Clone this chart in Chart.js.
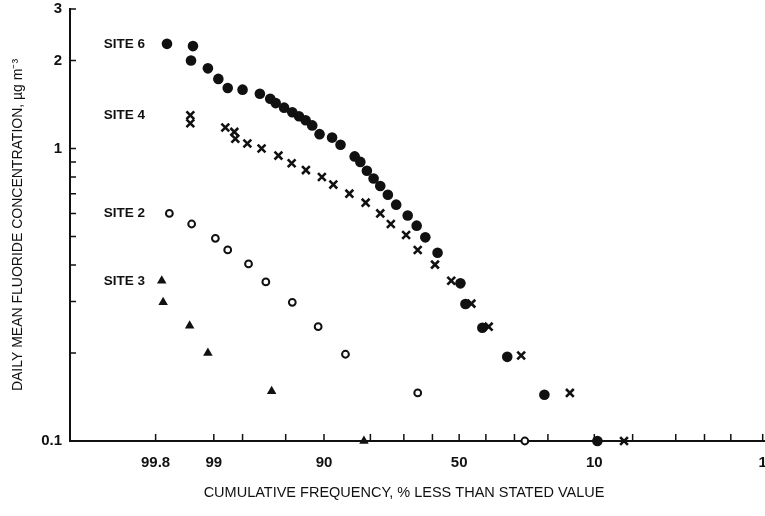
<!DOCTYPE html>
<html>
<head>
<meta charset="utf-8">
<script src="https://cdn.jsdelivr.net/npm/chart.js@4.4.0/dist/chart.umd.min.js"></script>
<style>
  html, body { margin: 0; padding: 0; background: #fff; }
</style>
</head>
<body>
<canvas id="chart" width="765" height="516"></canvas>
<script>
// cumulative frequency (% less than stated value) and daily mean conc. (ug m-3)
const site6Freq = [99.72, 99.42, 99.45, 99.14, 98.88, 98.59, 98.0, 97.06, 96.34, 95.9, 95.15, 94.32, 93.56, 92.73, 91.82, 90.72, 88.59, 86.97, 83.91, 82.56, 80.92, 79.14, 77.28, 75.05, 72.48, 68.72, 65.65, 62.59, 58.11, 49.52, 47.64, 41.3, 32.42, 20.95, 9.5];
const site6Conc = [2.28, 2.24, 2.0, 1.88, 1.73, 1.61, 1.59, 1.54, 1.48, 1.43, 1.38, 1.33, 1.29, 1.25, 1.2, 1.12, 1.09, 1.03, 0.94, 0.90, 0.84, 0.79, 0.745, 0.695, 0.643, 0.59, 0.545, 0.497, 0.44, 0.346, 0.294, 0.244, 0.194, 0.144, 0.1];

const site4Freq = [99.46, 99.46, 98.67, 98.35, 98.31, 97.77, 96.95, 95.67, 94.39, 92.69, 90.35, 88.36, 85.1, 81.24, 77.28, 74.15, 69.25, 65.28, 59.06, 52.99, 45.38, 38.97, 27.83, 14.69, 5.9];
const site4Conc = [1.30, 1.22, 1.18, 1.14, 1.08, 1.04, 1.0, 0.946, 0.891, 0.844, 0.799, 0.753, 0.701, 0.653, 0.6, 0.552, 0.506, 0.45, 0.401, 0.353, 0.295, 0.246, 0.196, 0.146, 0.1];

const site2Freq = [99.7, 99.44, 98.96, 98.59, 97.71, 96.66, 94.32, 90.94, 85.95, 65.28, 26.67];
const site2Conc = [0.6, 0.552, 0.493, 0.45, 0.403, 0.35, 0.298, 0.246, 0.198, 0.146, 0.1];

const site3Freq = [99.76, 99.75, 99.47, 99.14, 96.23, 81.67];
const site3Conc = [0.353, 0.298, 0.248, 0.2, 0.148, 0.1];

const siteNames = ['SITE 6', 'SITE 4', 'SITE 2', 'SITE 3'];

const xTickPct = [99.8, 99, 98, 95, 90, 80, 70, 60, 50, 40, 30, 20, 10, 5, 2, 1, 0.5, 0.2];
const xTickText = ['99.8', '99', '', '', '90', '', '', '', '50', '', '', '', '10', '', '', '', '', '1'];
const yTickVals = [0.1, 0.2, 0.3, 0.4, 0.5, 0.6, 0.7, 0.8, 0.9, 1, 2, 3];
const yTickText = ['0.1', '', '', '', '', '', '', '', '', '1', '2', '3'];

const ink = '#111';
const fontFam = '"Liberation Sans", Arial, sans-serif';

// inverse normal cdf (Acklam) -> probability paper axis
function probit(p) {
  const a = [-3.969683028665376e+01, 2.209460984245205e+02, -2.759285104469687e+02, 1.383577518672690e+02, -3.066479806614716e+01, 2.506628277459239e+00];
  const b = [-5.447609879822406e+01, 1.615858368580409e+02, -1.556989798598866e+02, 6.680131188771972e+01, -1.328068155288572e+01];
  const c = [-7.784894002430293e-03, -3.223964580411365e-01, -2.400758277161838e+00, -2.549732539343734e+00, 4.374664141464968e+00, 2.938163982698783e+00];
  const d = [7.784695709041462e-03, 3.224671290700398e-01, 2.445134137142996e+00, 3.754408661907416e+00];
  const plow = 0.02425;
  let q, r;
  if (p < plow) {
    q = Math.sqrt(-2 * Math.log(p));
    return (((((c[0]*q+c[1])*q+c[2])*q+c[3])*q+c[4])*q+c[5]) / ((((d[0]*q+d[1])*q+d[2])*q+d[3])*q+1);
  }
  if (p > 1 - plow) {
    q = Math.sqrt(-2 * Math.log(1 - p));
    return -(((((c[0]*q+c[1])*q+c[2])*q+c[3])*q+c[4])*q+c[5]) / ((((d[0]*q+d[1])*q+d[2])*q+d[3])*q+1);
  }
  q = p - 0.5; r = q * q;
  return (((((a[0]*r+a[1])*r+a[2])*r+a[3])*r+a[4])*r+a[5])*q / (((((b[0]*r+b[1])*r+b[2])*r+b[3])*r+b[4])*r+1);
}
const toX = pct => probit(1 - pct / 100);
const pts = (f, c) => f.map((p, i) => ({ x: toX(p), y: c[i] }));

const inwardTicks = {
  id: 'inwardTicks',
  beforeDatasetsDraw(chart) {
    const { ctx, chartArea, scales: { x, y } } = chart;
    ctx.save();
    ctx.strokeStyle = ink;
    ctx.lineWidth = 1.5;
    ctx.beginPath();
    x.ticks.forEach(t => {
      const px = x.getPixelForValue(t.value);
      ctx.moveTo(px, chartArea.bottom);
      ctx.lineTo(px, chartArea.bottom - 7);
    });
    y.ticks.forEach(t => {
      const py = y.getPixelForValue(t.value);
      ctx.moveTo(chartArea.left, py);
      ctx.lineTo(chartArea.left + 6, py);
    });
    ctx.stroke();
    ctx.restore();
  },
  afterDatasetsDraw(chart) {
    const { ctx, chartArea, scales: { y } } = chart;
    ctx.save();
    ctx.fillStyle = ink;
    ctx.font = 'bold 13.5px ' + fontFam;
    ctx.textAlign = 'right';
    ctx.textBaseline = 'middle';
    const first = [site6Conc[0], site4Conc[0], site2Conc[0], site3Conc[0]];
    siteNames.forEach((s, i) => {
      ctx.fillText(s, chartArea.left + 75, y.getPixelForValue(first[i]));
    });
    ctx.font = '14.5px ' + fontFam;
    ctx.textAlign = 'center';
    ctx.fillText('CUMULATIVE FREQUENCY, % LESS THAN STATED VALUE', 404, 493);
    ctx.restore();
  }
};

new Chart(document.getElementById('chart'), {
  type: 'scatter',
  data: {
    datasets: [
      { label: siteNames[0], data: pts(site6Freq, site6Conc), pointStyle: 'circle', pointRadius: 5.3, backgroundColor: ink, borderColor: ink, borderWidth: 0, clip: false },
      { label: siteNames[1], data: pts(site4Freq, site4Conc), pointStyle: 'crossRot', pointRadius: 5.5, borderColor: ink, borderWidth: 2.6, clip: false },
      { label: siteNames[2], data: pts(site2Freq, site2Conc), pointStyle: 'circle', pointRadius: 3.4, backgroundColor: '#fff', borderColor: ink, borderWidth: 2, clip: false },
      { label: siteNames[3], data: pts(site3Freq, site3Conc), pointStyle: 'triangle', pointRadius: 5.5, backgroundColor: ink, borderColor: ink, borderWidth: 0, clip: false }
    ]
  },
  options: {
    responsive: false,
    animation: false,
    layout: { autoPadding: false, padding: { top: 9, right: 0, left: 0, bottom: 0 } },
    plugins: { legend: { display: false }, tooltip: { enabled: false } },
    scales: {
      x: {
        type: 'linear',
        min: -3.69,
        max: 2.9,
        afterBuildTicks: s => { s.ticks = xTickPct.map(p => ({ value: toX(p) })); },
        afterFit: s => { s.height = 75; s.paddingLeft = 0; s.paddingRight = 0; },
        grid: { display: false, drawTicks: false },
        border: { display: true, color: ink, width: 2 },
        ticks: {
          autoSkip: false, maxRotation: 0, padding: 13, color: ink,
          font: { family: fontFam, size: 15, weight: 'bold' },
          callback: (v, i) => xTickText[i]
        }
      },
      y: {
        type: 'logarithmic',
        min: 0.1,
        max: 3,
        afterBuildTicks: s => { s.ticks = yTickVals.map(v => ({ value: v })); },
        afterFit: s => { s.width = 70; s.paddingTop = 0; s.paddingBottom = 0; },
        grid: { display: false, drawTicks: false },
        border: { display: true, color: ink, width: 2 },
        ticks: {
          autoSkip: false, padding: 8, color: ink,
          font: { family: fontFam, size: 15, weight: 'bold' },
          callback: (v, i) => yTickText[i]
        },
        title: {
          display: true,
          text: 'DAILY MEAN FLUORIDE CONCENTRATION, \u00b5g m\u207b\u00b3',
          color: ink,
          font: { family: fontFam, size: 14 },
          padding: { top: 10, bottom: 0 }
        }
      }
    }
  },
  plugins: [inwardTicks]
});
</script>
</body>
</html>
